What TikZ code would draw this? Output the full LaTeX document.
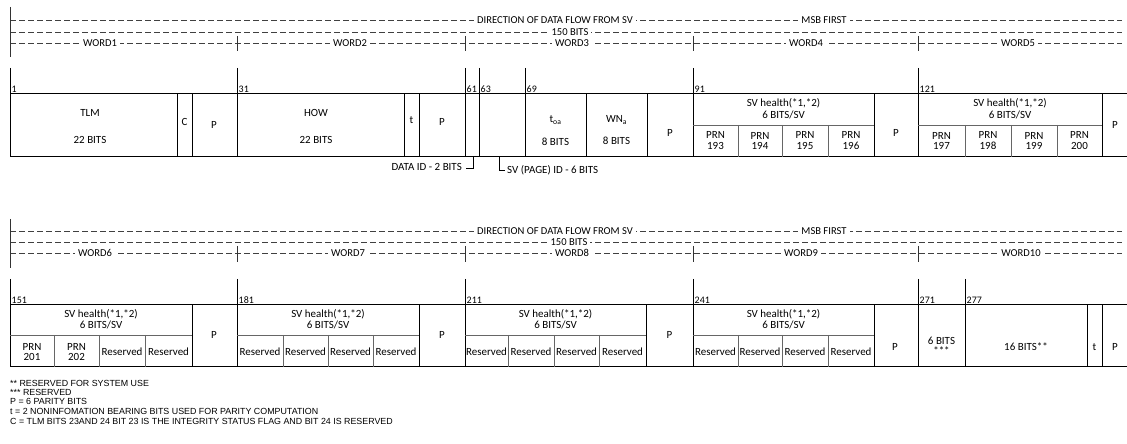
\documentclass[tikz,border=0pt]{standalone}
\usepackage{fontspec}
\setmainfont{Carlito}
\newfontfamily\legfont{Liberation Sans}
\begin{document}
\begin{tikzpicture}[x=1bp,y=-1bp,
  dl/.style={draw=black!75, line width=0.6bp, dash pattern=on 6bp off 3bp},
  hlbl/.style={fill=white, inner xsep=3bp, inner ysep=0.5bp, font=\fontsize{10.6}{12}\selectfont},
  tx/.style={inner sep=0pt, font=\fontsize{11}{12.5}\selectfont, align=center},
  num/.style={anchor=south west, inner sep=0pt, font=\fontsize{10}{11}\selectfont},
  bx/.style={draw=black, line width=1bp},
  ib/.style={draw=black!60, line width=0.8bp},
  tick/.style={draw=black!80, line width=1bp},
  leg/.style={anchor=west, inner sep=0pt, font=\legfont\fontsize{8.9}{10}\selectfont}]
\useasboundingbox (0,0) rectangle (1127,444);

% ---------------- header 1
\foreach \y in {20,32,43} \draw[dl] (10,\y) -- (1122,\y);
\draw[tick] (10,7) -- (10,57);
\foreach \x in {237,465,693,918} \draw[tick] (\x,36) -- (\x,51);
\node[hlbl] (dirA) at (555,20) {DIRECTION OF DATA FLOW FROM SV};
\node[hlbl] (msbA) at (824,20) {MSB FIRST};
\node[hlbl] (bitsA) at (570,32) {150 BITS};
\node[hlbl] (w1) at (100,43) {WORD1};
\node[hlbl] (w2) at (350,43) {WORD2};
\node[hlbl] (w3) at (572,43) {WORD3};
\node[hlbl] (w4) at (806,43) {WORD4};
\node[hlbl] (w5) at (1018,43) {WORD5};

% ---------------- boxes 1
\draw[bx] (10,94) -- (1127,94);
\draw[bx] (10,157) -- (1127,157);
\foreach \x in {10,237,465,479,525,693,918} \draw[bx] (\x,68) -- (\x,157);
\foreach \x in {177,192,404,419,586,647,874,1102} \draw[bx] (\x,94) -- (\x,157);
\draw[ib] (693,125) -- (874,125);
\draw[ib] (918,125) -- (1102,125);
\foreach \x in {738,782,828,965,1011,1057} \draw[ib] (\x,125) -- (\x,157);

\node[num] (n1) at (11.5,92.5) {1};
\node[num] (n31) at (238.5,92.5) {31};
\node[num] (n61) at (466.5,92.5) {61};
\node[num] (n63) at (480.5,92.5) {63};
\node[num] (n69) at (526.5,92.5) {69};
\node[num] (n91) at (694.5,92.5) {91};
\node[num] (n121) at (919.5,92.5) {121};

\node[tx] (tlm) at (90,113) {TLM};
\node[tx] (tlmb) at (90,140) {22 BITS};
\node[tx] (c) at (184.5,122) {C};
\node[tx] (p1) at (214,125) {P};
\node[tx] (how) at (316,113) {HOW};
\node[tx] (howb) at (316,140) {22 BITS};
\node[tx] (t1) at (411.5,120) {t};
\node[tx] (p2) at (442,122) {P};
\node[tx] (toa) at (555.5,120) {t\textsubscript{oa}};
\node[tx] (toab) at (555.5,142) {8 BITS};
\node[tx] (wna) at (616.5,120) {WN\textsubscript{a}};
\node[tx] (wnab) at (616.5,141) {8 BITS};
\node[tx] (p3) at (670,133) {P};
\node[tx] (svh4) at (783.5,103) {SV health(*1,*2)};
\node[tx] (svb4) at (783.5,115) {6 BITS/SV};
\node[tx] (r193) at (715.5,141) {PRN\\[-1.5bp]193};
\node[tx] (r194) at (760,141) {PRN\\[-1.5bp]194};
\node[tx] (r195) at (805,141) {PRN\\[-1.5bp]195};
\node[tx] (r196) at (851,141) {PRN\\[-1.5bp]196};
\node[tx] (p4) at (896,133) {P};
\node[tx] (svh5) at (1010,103) {SV health(*1,*2)};
\node[tx] (svb5) at (1010,115) {6 BITS/SV};
\node[tx] (r197) at (941.5,141) {PRN\\[-1.5bp]197};
\node[tx] (r198) at (988,141) {PRN\\[-1.5bp]198};
\node[tx] (r199) at (1034,141) {PRN\\[-1.5bp]199};
\node[tx] (r200) at (1079.5,141) {PRN\\[-1.5bp]200};
\node[tx] (p5) at (1115,125) {P};

% brackets
\coordinate (dA) at (473,157);
\coordinate (dB) at (473,168);
\coordinate (dC) at (466,168);
\draw[bx, line width=0.8bp] (dA) -- (dB) -- (dC);
\node[tx, anchor=east] (dataid) at (462,167) {DATA ID - 2 BITS};
\coordinate (sA) at (499,157);
\coordinate (sB) at (499,170);
\coordinate (sC) at (505,170);
\draw[bx, line width=0.8bp] (sA) -- (sB) -- (sC);
\node[tx, anchor=west] (svid) at (507,170) {SV (PAGE) ID - 6 BITS};

% ---------------- header 2
\foreach \y in {231,242,253} \draw[dl] (10,\y) -- (1122,\y);
\draw[tick] (10,219) -- (10,268);
\foreach \x in {237,465,693,918} \draw[tick] (\x,246) -- (\x,262);
\node[hlbl] (dirB) at (555,231) {DIRECTION OF DATA FLOW FROM SV};
\node[hlbl] (msbB) at (824,231) {MSB FIRST};
\node[hlbl] (bitsB) at (569,242) {150 BITS};
\node[hlbl] (w6) at (95,253) {WORD6};
\node[hlbl] (w7) at (348,253) {WORD7};
\node[hlbl] (w8) at (572,253) {WORD8};
\node[hlbl] (w9) at (801,253) {WORD9};
\node[hlbl] (w10) at (1021,253) {WORD10};

% ---------------- boxes 2
\draw[bx] (10,305) -- (1127,305);
\draw[bx] (10,367) -- (1127,367);
\foreach \x in {10,237,465,693,918,965} \draw[bx] (\x,279) -- (\x,367);
\foreach \x in {192,419,646,874,1087,1102} \draw[bx] (\x,305) -- (\x,367);
\draw[ib] (10,335) -- (192,335);
\draw[ib] (237,335) -- (419,335);
\draw[ib] (465,335) -- (646,335);
\draw[ib] (693,335) -- (874,335);
\foreach \x in {54,99,145,283,328,373,508,554,599,738,782,828} \draw[ib] (\x,335) -- (\x,367);

\node[num] (n151) at (11.5,303.5) {151};
\node[num] (n181) at (238.5,303.5) {181};
\node[num] (n211) at (466.5,303.5) {211};
\node[num] (n241) at (694.5,303.5) {241};
\node[num] (n271) at (919.5,303.5) {271};
\node[num] (n277) at (966.5,303.5) {277};

\node[tx] (svh6) at (101,314) {SV health(*1,*2)};
\node[tx] (svb6) at (101,325) {6 BITS/SV};
\node[tx] (r201) at (32,352) {PRN\\[-1.5bp]201};
\node[tx] (r202) at (76.5,352) {PRN\\[-1.5bp]202};
\node[tx] (rs61) at (122,352) {Reserved};
\node[tx] (rs62) at (168.5,352) {Reserved};
\node[tx] (p6) at (214,335) {P};

\node[tx] (svh7) at (328,314) {SV health(*1,*2)};
\node[tx] (svb7) at (328,325) {6 BITS/SV};
\node[tx] (rs71) at (260,352) {Reserved};
\node[tx] (rs72) at (305.5,352) {Reserved};
\node[tx] (rs73) at (350.5,352) {Reserved};
\node[tx] (rs74) at (396,352) {Reserved};
\node[tx] (p7) at (442,335) {P};

\node[tx] (svh8) at (555.5,314) {SV health(*1,*2)};
\node[tx] (svb8) at (555.5,325) {6 BITS/SV};
\node[tx] (rs81) at (486.5,352) {Reserved};
\node[tx] (rs82) at (531,352) {Reserved};
\node[tx] (rs83) at (576.5,352) {Reserved};
\node[tx] (rs84) at (622.5,352) {Reserved};
\node[tx] (p8) at (669.5,335) {P};

\node[tx] (svh9) at (783.5,314) {SV health(*1,*2)};
\node[tx] (svb9) at (783.5,325) {6 BITS/SV};
\node[tx] (rs91) at (715.5,352) {Reserved};
\node[tx] (rs92) at (760,352) {Reserved};
\node[tx] (rs93) at (805,352) {Reserved};
\node[tx] (rs94) at (851,352) {Reserved};
\node[tx] (p9) at (895,347) {P};

\node[tx] (six) at (941.5,346) {6 BITS\\[-2bp]***};
\node[tx] (sixteen) at (1026,347) {16 BITS**};
\node[tx] (t10) at (1094.5,347) {t};
\node[tx] (p10) at (1115,347) {P};

% ---------------- legend
\node[leg] (l1) at (10,383) {** RESERVED FOR SYSTEM USE};
\node[leg] (l2) at (10,392) {*** RESERVED};
\node[leg] (l3) at (10,401.5) {P = 6 PARITY BITS};
\node[leg] (l4) at (10,411) {t = 2 NONINFOMATION BEARING BITS USED FOR PARITY COMPUTATION};
\node[leg] (l5) at (10,421) {C = TLM BITS 23AND 24 BIT 23 IS THE INTEGRITY STATUS FLAG AND BIT 24 IS RESERVED};
\end{tikzpicture}
\end{document}
